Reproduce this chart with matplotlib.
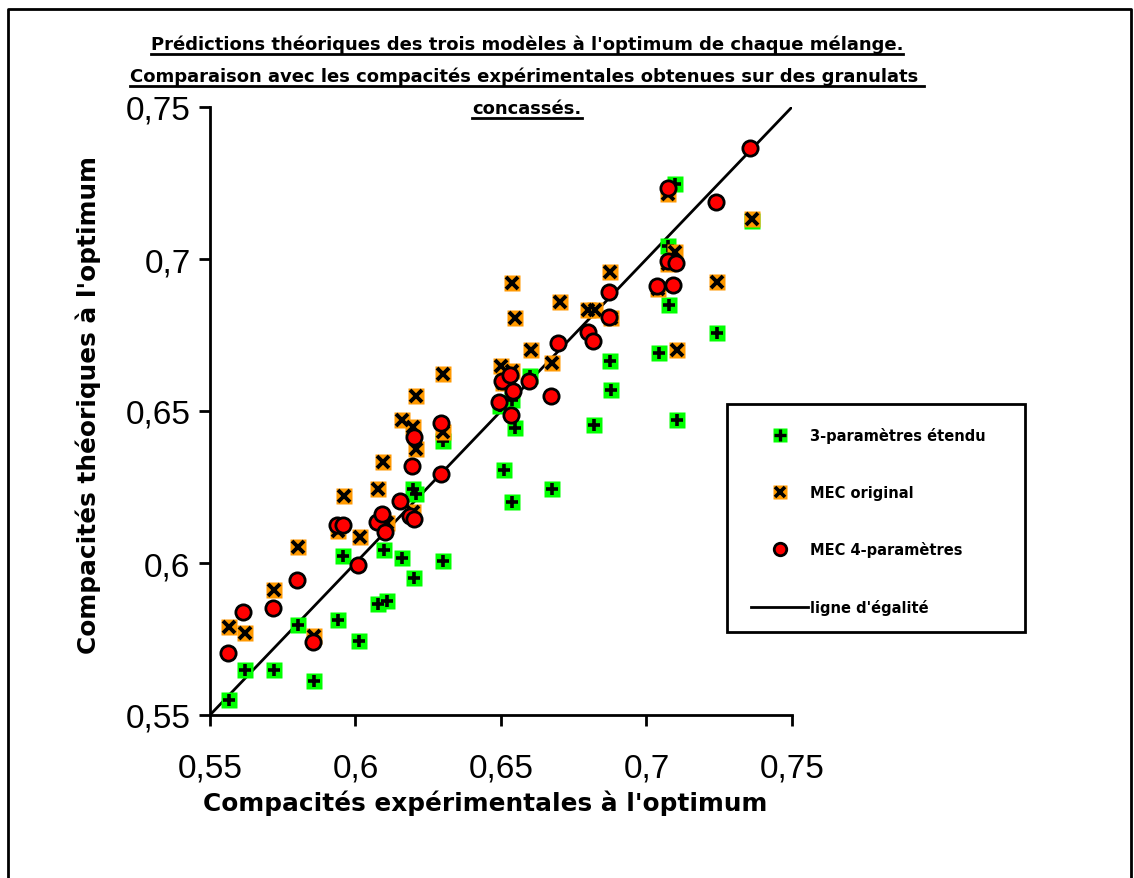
import matplotlib
matplotlib.use("Agg")
import matplotlib.pyplot as plt
from matplotlib.lines import Line2D
from matplotlib.patches import Rectangle
from matplotlib.legend_handler import HandlerTuple
from matplotlib.ticker import FuncFormatter

# --- data ---
green_x = [0.5565, 0.5620, 0.5720, 0.5802, 0.5857, 0.5940, 0.5957, 0.6012, 0.6077, 0.6108,
           0.6098, 0.6160, 0.6201, 0.6198, 0.6208, 0.6301, 0.6301, 0.6510, 0.6538, 0.6548,
           0.6538, 0.6600, 0.6497, 0.6675, 0.6820, 0.6875, 0.6878, 0.7077, 0.7043, 0.7105,
           0.7242, 0.7074, 0.7098, 0.7363]
green_y = [0.5549, 0.5648, 0.5648, 0.5796, 0.5612, 0.5813, 0.6023, 0.5743, 0.5865, 0.5875,
           0.6043, 0.6016, 0.5951, 0.6243, 0.6227, 0.6401, 0.6007, 0.6306, 0.6201, 0.6444,
           0.6536, 0.6615, 0.6516, 0.6243, 0.6454, 0.6664, 0.6569, 0.6849, 0.6691, 0.6470,
           0.6757, 0.7043, 0.7247, 0.7125]

orange_x = [0.5565, 0.5620, 0.5720, 0.5802, 0.5857, 0.5940, 0.5960, 0.6015, 0.6077, 0.6095,
            0.6108, 0.6160, 0.6208, 0.6198, 0.6208, 0.6198, 0.6301, 0.6301, 0.6500, 0.6538,
            0.6538, 0.6548, 0.6507, 0.6603, 0.6675, 0.6703, 0.6799, 0.6823, 0.6875, 0.6878,
            0.7040, 0.7074, 0.7098, 0.7074, 0.7105, 0.7242, 0.7363]
orange_y = [0.5789, 0.5770, 0.5911, 0.6053, 0.5760, 0.6105, 0.6220, 0.6086, 0.6243, 0.6332,
            0.6132, 0.6470, 0.6549, 0.6447, 0.6375, 0.6168, 0.6622, 0.6431, 0.6648, 0.6632,
            0.6921, 0.6806, 0.6592, 0.6701, 0.6658, 0.6859, 0.6832, 0.6832, 0.6957, 0.6806,
            0.6901, 0.7214, 0.7023, 0.6984, 0.6701, 0.6924, 0.7132]

red_x = [0.5562, 0.5613, 0.5716, 0.5799, 0.5854, 0.5936, 0.5957, 0.6009, 0.6074, 0.6091,
         0.6101, 0.6153, 0.6194, 0.6201, 0.6187, 0.6201, 0.6294, 0.6294, 0.6493, 0.6503,
         0.6531, 0.6541, 0.6535, 0.6596, 0.6672, 0.6696, 0.6799, 0.6816, 0.6871, 0.6871,
         0.7036, 0.7091, 0.7074, 0.7074, 0.7101, 0.7239, 0.7356]
red_y = [0.5704, 0.5839, 0.5852, 0.5944, 0.5740, 0.6125, 0.6125, 0.5993, 0.6135, 0.6161,
         0.6102, 0.6204, 0.6319, 0.6414, 0.6155, 0.6145, 0.6461, 0.6293, 0.6530, 0.6599,
         0.6618, 0.6566, 0.6487, 0.6599, 0.6549, 0.6724, 0.6760, 0.6730, 0.6891, 0.6809,
         0.6911, 0.6914, 0.7234, 0.6993, 0.6987, 0.7188, 0.7365]

equal_x = [0.55, 0.75]
equal_y = [0.55, 0.75]

ticks = [0.55, 0.60, 0.65, 0.70, 0.75]
title_lines = [
    "Prédictions théoriques des trois modèles à l'optimum de chaque mélange.",
    "Comparaison avec les compacités expérimentales obtenues sur des granulats ",
    "concassés.",
]
labels = ["3-paramètres étendu", "MEC original", "MEC 4-paramètres", "ligne d'égalité"]

GREEN = "#00ff00"
ORANGE = "#ff9900"
RED = "#ff0000"

W, H = 1134, 879
fig = plt.figure(figsize=(W / 100, H / 100), dpi=100)
ax = fig.add_axes([210 / W, 1 - 716 / H, (792 - 210) / W, (716 - 108) / H])

# markers: green square + black plus, orange square + black x, red circle
ax.plot(green_x, green_y, ls="", marker="s", ms=11, mfc=GREEN, mec="none", zorder=3)
ax.plot(green_x, green_y, ls="", marker="+", ms=9, mew=2.6, color="black", zorder=3)
ax.plot(orange_x, orange_y, ls="", marker="s", ms=11, mfc=ORANGE, mec="none", zorder=4)
ax.plot(orange_x, orange_y, ls="", marker="x", ms=8, mew=2.8, color="black", zorder=4)
ax.plot(red_x, red_y, ls="", marker="o", ms=11, mfc=RED, mec="black", mew=2, zorder=5)
ax.plot(equal_x, equal_y, color="black", lw=2, zorder=2)

ax.set_xlim(0.55, 0.75)
ax.set_ylim(0.55, 0.75)
ax.set_xticks(ticks)
ax.set_yticks(ticks)
fmt = FuncFormatter(lambda v, p: ("%g" % round(v, 2)).replace(".", ","))
ax.xaxis.set_major_formatter(fmt)
ax.yaxis.set_major_formatter(fmt)

for s in ["top", "right"]:
    ax.spines[s].set_visible(False)
for s in ["left", "bottom"]:
    ax.spines[s].set_linewidth(2)
ax.tick_params(direction="out", length=8, width=2)
ax.tick_params(axis="x", pad=19)
ax.tick_params(axis="y", pad=6)
for lab in ax.get_xticklabels() + ax.get_yticklabels():
    lab.set_family("Liberation Sans")
    lab.set_fontsize(24)

lab_font = dict(family="DejaVu Sans", fontweight="bold", fontsize=17.8)
fig.text(485 / W, 1 - 803 / H, "Compacités expérimentales à l'optimum", ha="center", va="center", **lab_font)
fig.text(88 / W, 1 - 405 / H, "Compacités théoriques à l'optimum", ha="center", va="center",
         rotation=90, **lab_font)

# underlined title lines
baselines = [50, 82, 114]
title_objs = []
for line, b in zip(title_lines, baselines):
    t = fig.text(527 / W, 1 - b / H, line, ha="center", va="baseline",
                 family="DejaVu Sans", fontweight="bold", fontsize=13)
    title_objs.append((t, b))
fig.canvas.draw()
for t, b in title_objs:
    bb = t.get_window_extent()
    yy = 1 - (b + 5) / H
    fig.add_artist(Line2D([bb.x0 / W, bb.x1 / W], [yy, yy], color="black", lw=2,
                          transform=fig.transFigure))

# legend with manual frame
handles = [
    (Line2D([], [], ls="", marker="s", ms=9.5, mfc=GREEN, mec="none"),
     Line2D([], [], ls="", marker="+", ms=8, mew=2.4, color="black")),
    (Line2D([], [], ls="", marker="s", ms=9.5, mfc=ORANGE, mec="none"),
     Line2D([], [], ls="", marker="x", ms=7, mew=2.6, color="black")),
    Line2D([], [], ls="", marker="o", ms=9, mfc=RED, mec="black", mew=2),
    Line2D([], [], color="black", lw=2),
]
leg = fig.legend(handles, labels, handler_map={tuple: HandlerTuple(ndivide=1, pad=0)},
                 loc="upper left", bbox_to_anchor=(744 / W, 1 - 421 / H),
                 bbox_transform=fig.transFigure, frameon=False, borderpad=0,
                 labelspacing=2.85, handlelength=3.9, handletextpad=0.1,
                 prop=dict(family="DejaVu Sans", weight="bold", size=10.5))
fig.add_artist(Rectangle((727 / W, 1 - 633 / H), (1025 - 727) / W, (633 - 405) / H,
                         fill=False, lw=2, ec="black", transform=fig.transFigure))

# outer frame of the sheet
fig.add_artist(Line2D([8 / W, 8 / W, 1131 / W, 1131 / W], [0, 1 - 10 / H, 1 - 10 / H, 0],
                      color="black", lw=2, transform=fig.transFigure))

fig.savefig("out.png", dpi=100)
